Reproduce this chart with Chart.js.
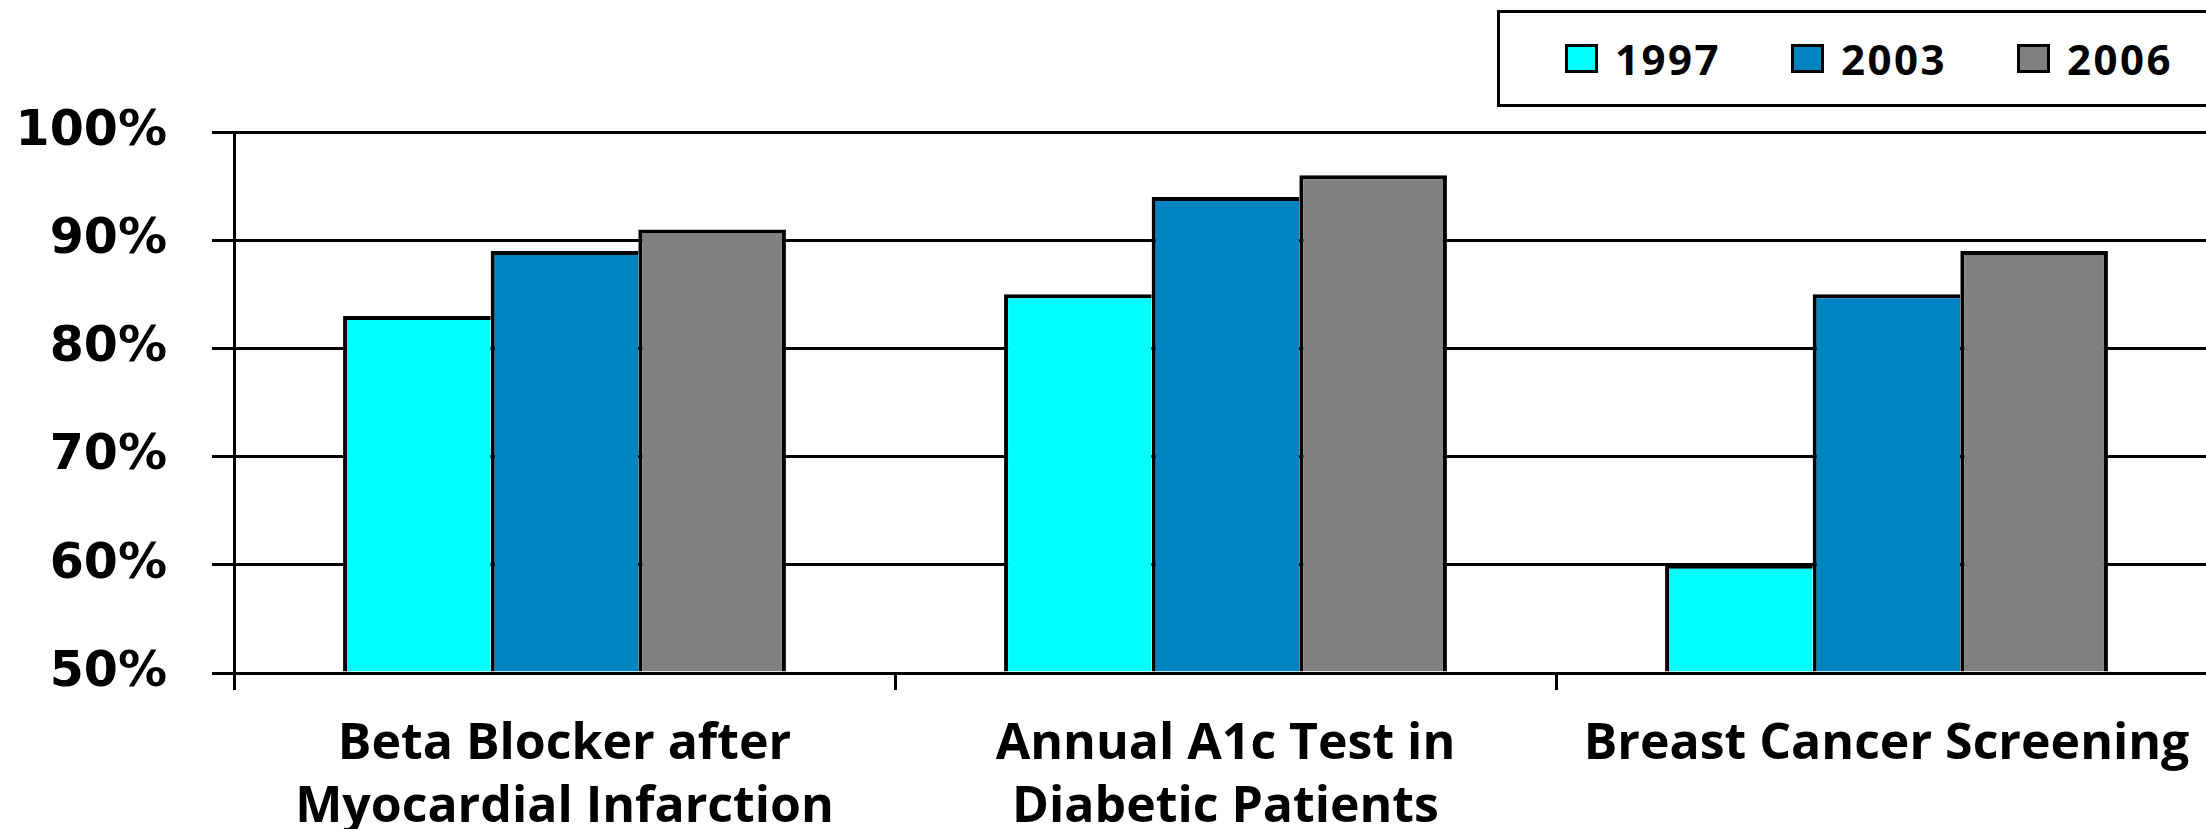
<!DOCTYPE html>
<html>
<head>
<meta charset="utf-8">
<script src="https://cdn.jsdelivr.net/npm/chart.js@4/dist/chart.umd.min.js"></script>
<style>
  html, body { margin: 0; padding: 0; background: #fff; overflow: hidden; width: 2206px; height: 829px; }
  #wrap { position: relative; width: 2220px; height: 829px; }
  #legend {
    position: absolute; left: 1497px; top: 10px; height: 97px; width: 760px;
    box-sizing: border-box; border: 3px solid #000; background: #fff;
    display: flex; align-items: center; padding-left: 65px;
  }
  .item { display: flex; align-items: center; width: 226px; flex: none; }
  .sw { width: 33px; height: 29px; box-sizing: border-box; border: 3px solid #000; margin-right: 17px; }
  .lbl { font-family: 'Open Sans'; font-weight: 700; font-size: 42px; letter-spacing: 2.5px; line-height: 1; color: #000; }
</style>
</head>
<body>
<div id="wrap">
  <canvas id="chart" width="2220" height="829"></canvas>
  <div id="legend"></div>
</div>
<script>
// Quality measures by year
const categories = [
  ['Beta Blocker after', 'Myocardial Infarction'],
  ['Annual A1c Test in', 'Diabetic Patients'],
  ['Breast Cancer Screening']
];
const seriesNames = ['1997', '2003', '2006'];
const values1997 = [83, 85, 60];
const values2003 = [89, 94, 85];
const values2006 = [91, 96, 89];
const seriesColors = ['#00FFFF', '#0083C1', '#808080'];
const yTicks = [50, 60, 70, 80, 90, 100];

const seriesValues = [values1997, values2003, values2006];

// Legend in a framed box at the top right
const legendEl = document.getElementById('legend');
seriesNames.forEach((name, i) => {
  const item = document.createElement('div');
  item.className = 'item';
  const sw = document.createElement('span');
  sw.className = 'sw';
  sw.style.background = seriesColors[i];
  const lbl = document.createElement('span');
  lbl.className = 'lbl';
  lbl.textContent = name;
  item.appendChild(sw);
  item.appendChild(lbl);
  legendEl.appendChild(item);
});

function draw() {
  const last = seriesNames.length - 1;
  new Chart(document.getElementById('chart'), {
    type: 'bar',
    data: {
      labels: categories,
      datasets: seriesNames.map((name, i) => ({
        label: name,
        data: seriesValues[i],
        backgroundColor: seriesColors[i],
        borderColor: '#000',
        // neighbouring bars share one dividing line
        borderWidth: { top: 4, left: 4, right: i === last ? 4 : 0, bottom: 0 },
        base: yTicks[0],
        inflateAmount: 0,
        categoryPercentage: 0.67,
        barPercentage: 1.0
      }))
    },
    options: {
      responsive: false,
      animation: false,
      layout: { padding: { top: 132, left: 0, right: 3, bottom: 0 } },
      plugins: { legend: { display: false }, tooltip: { enabled: false } },
      scales: {
        x: {
          offset: true,
          grid: { display: true, drawOnChartArea: false, drawTicks: true, tickLength: 17, color: '#000', lineWidth: 3, offset: true },
          border: { display: true, color: '#000', width: 3, z: 1 },
          ticks: {
            color: '#000', padding: 23, maxRotation: 0, minRotation: 0, autoSkip: false,
            font: { family: 'Open Sans', weight: 'bold', size: 50, lineHeight: '63px' }
          },
          afterFit: (s) => { s.height = 156; }
        },
        y: {
          min: yTicks[0],
          max: yTicks[yTicks.length - 1],
          afterBuildTicks: (s) => { s.ticks = yTicks.map(v => ({ value: v })); },
          grid: { color: '#000', lineWidth: 3, drawTicks: true, tickLength: 22 },
          border: { display: true, color: '#000', width: 3 },
          ticks: {
            color: '#000', padding: 45,
            font: { family: 'DejaVu Sans', weight: 'bold', size: 49 },
            callback: (v) => v + '%'
          },
          afterFit: (s) => { s.width = 234; }
        }
      }
    }
  });
}

Promise.all([
  document.fonts.load('bold 50px "Open Sans"'),
  document.fonts.load('bold 49px "DejaVu Sans"')
]).then(draw, draw);
</script>
</body>
</html>
